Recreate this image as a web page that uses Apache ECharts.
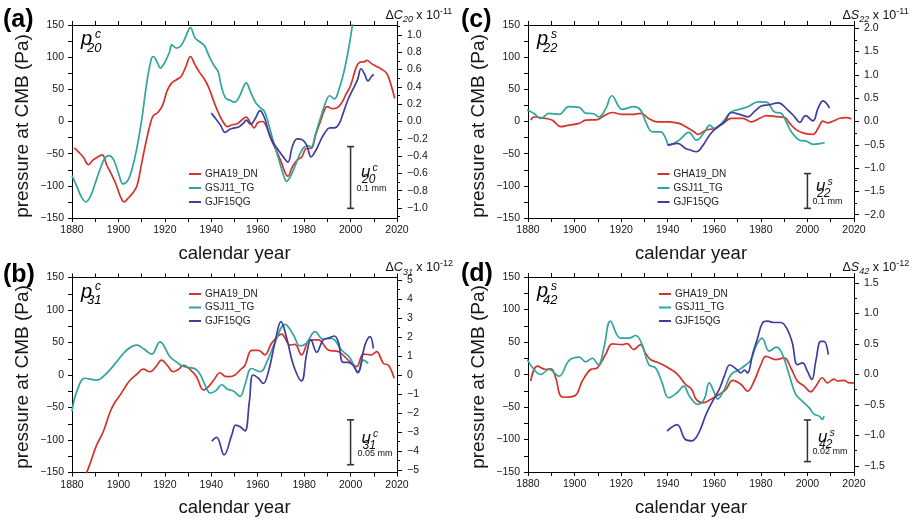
<!DOCTYPE html>
<html><head><meta charset="utf-8">
<script src="https://cdn.jsdelivr.net/npm/echarts@6/dist/echarts.min.js"></script>
<style>html,body{margin:0;padding:0;background:#fff}#c{width:920px;height:521px}</style>
</head><body><div id="c"></div>
<script>
// ---------------- data ----------------
const seriesNames = ['GHA19_DN', 'GSJ11_TG', 'GJF15QG'];
const seriesColors = ['#d5322b', '#2fa59e', '#3e3e9f'];

// (a) p^c_20
const a_GHA19_DN = [[1881,-41],[1883,-48],[1885,-56],[1887,-67],[1889,-60],[1891,-55],[1893,-52],[1895,-68],[1897,-82],[1899,-98],[1901,-118],[1902.5,-125],[1904,-120],[1906,-112],[1908,-100],[1910,-65],[1912,-30],[1914,0],[1915,9],[1917,14],[1919,25],[1921,48],[1923,60],[1925,65],[1927,70],[1929,85],[1931,101],[1933,88],[1935,76],[1937,66],[1939,52],[1941,32],[1943,14],[1945,0],[1947,-8],[1949,-5],[1951,-4],[1953,2],[1955,7],[1957,-3],[1958.5,-10],[1960,-2],[1962,0],[1964,-10],[1966,-30],[1968,-45],[1970,-62],[1973,-85],[1975,-70],[1977,-60],[1979,-55],[1981,-42],[1983,-42],[1985,-20],[1987,0],[1989,20],[1990,23],[1992,20],[1994,21],[1996,28],[1998,42],[2000,56],[2002.5,85],[2004,92],[2006,93],[2007,95],[2009,90],[2011,86],[2013,82],[2015.5,75],[2017,62],[2019,36]];
const a_GSJ11_TG = [[1880,-84],[1882,-100],[1884,-117],[1886,-125],[1888,-116],[1890,-96],[1892,-75],[1894,-58],[1896,-53],[1898,-60],[1900,-80],[1902,-97],[1904,-92],[1906,-72],[1908,-40],[1910,2],[1912,55],[1914,95],[1915,101],[1917,90],[1918,83],[1920,92],[1922,108],[1923,119],[1925,114],[1927,118],[1929,132],[1931,146],[1933,130],[1935,124],[1937,118],[1939,102],[1941,88],[1943,77],[1944,60],[1946,37],[1948,33],[1950,30],[1952,38],[1954,55],[1955,60],[1957,45],[1959,30],[1961,22],[1963,15],[1965,-8],[1967,-35],[1969,-58],[1971,-82],[1972.5,-93],[1974,-86],[1976,-70],[1978,-52],[1980,-40],[1982,-38],[1983,-40],[1985,-18],[1987,5],[1989,27],[1991,40],[1993,35],[1995,50],[1997,75],[1999,110],[2001,155]];
const a_GJF15QG = [[1940,13],[1942,4],[1944,-6],[1946,-17],[1948,-12],[1950,-10],[1952,-8],[1954,-2],[1955,2],[1957,-4],[1959,5],[1961,17],[1963,5],[1965,-20],[1967,-35],[1969,-45],[1971,-55],[1973,-63],[1975,-38],[1977,-27],[1979,-28],[1981,-36],[1983,-55],[1985,-45],[1987,-30],[1989,-17],[1991,-10],[1993,-10],[1995,-4],[1997,15],[1999,35],[2001,50],[2003,65],[2004.5,82],[2006,74],[2007.5,63],[2009,70],[2010,73]];

// (b) p^c_31
const b_GHA19_DN = [[1885.5,-158],[1887.8,-136],[1890.6,-108],[1893.5,-87],[1896.4,-57],[1898.5,-42],[1900.7,-31],[1903,-18],[1905,-8],[1908,1.5],[1910.7,9],[1913.6,5],[1916,12],[1918.6,23],[1921,15],[1923.6,5],[1926,9],[1928,15],[1931,8],[1933.7,-3],[1936.6,-23],[1939,-17],[1941,-8],[1943.8,3.5],[1946,-2],[1948,-2.6],[1950.2,0],[1952.4,7.7],[1954.5,15],[1957.4,38],[1960.3,38],[1963.1,31],[1966,49],[1970.3,63],[1973.9,46],[1976,47],[1978.9,31],[1982.5,54],[1986.1,54],[1990.4,38.5],[1994.7,36],[1999,23],[2002.6,13],[2005.5,32],[2009,31],[2011.2,36],[2014.1,18],[2016.3,15],[2018.8,-5]];
const b_GSJ11_TG = [[1880,-56],[1882,-26],[1885.6,-5],[1890.6,-8],[1894.9,2.6],[1899.3,20.5],[1903.6,38.5],[1907.9,46],[1911,40],[1914.3,32],[1917.9,51],[1922.2,28],[1925,20],[1928,13],[1933.7,7.7],[1938,-20.5],[1939.4,-28],[1942,-24],[1944.5,-15],[1947,-22],[1949.5,-24.6],[1952.4,-33],[1954.5,-15],[1957.4,10],[1961,5],[1964.6,25.7],[1967.5,51],[1971.8,78],[1975.4,61.6],[1978.2,44.7],[1981,49],[1984.7,66.7],[1988.2,55],[1991.8,56.5],[1996.1,38.5],[1999.7,26.7],[2003.3,5],[2005.5,23],[2007.6,18]];
const b_GJF15QG = [[1940.2,-101.7],[1942.3,-96],[1945.5,-123],[1948.8,-92.5],[1950.5,-77],[1952.4,-79.6],[1954.5,-86],[1956.4,-41],[1958,0],[1960.3,-5],[1962.4,-13],[1964.6,5],[1967.5,51],[1970,82],[1972.5,56.5],[1975.4,15],[1978.9,-9],[1981,31],[1982.9,54],[1985.4,35],[1988.2,54],[1991.1,57.5],[1993,60],[1994.7,51],[1996.8,19.5],[1999,19.5],[2001.1,15],[2003,3.6],[2006.2,46],[2008.4,59],[2009.8,41]];

// (c) p^s_22
const c_GHA19_DN = [[1881.2,2],[1882.6,7],[1887.6,4.7],[1890.5,2],[1894,-8],[1897.6,-5.6],[1901.9,-3],[1904.8,2],[1909.8,3],[1912.6,8.8],[1916.2,14],[1920.5,11],[1924.8,11],[1928.4,12.7],[1932,4.3],[1935.6,-0.5],[1940.6,-0.5],[1944.9,-3],[1947.8,-8],[1951.3,-16],[1953,-20],[1956.6,-13],[1960.2,-11],[1963.7,-3],[1967.3,5],[1972.3,5],[1975.9,-0.5],[1979.5,5],[1982.4,9],[1986.7,7.5],[1990.2,6.5],[1992.4,-3],[1995.3,-13],[1998.8,-18.5],[2002.4,-20],[2004.5,-11],[2006.7,0.5],[2008.8,-2],[2010.9,0.5],[2013.9,5],[2016.8,6],[2018.9,4]];
const c_GSJ11_TG = [[1879.5,17.7],[1882.6,12.5],[1885.5,4.7],[1889,12.5],[1893.3,11],[1897.6,23],[1901.9,22],[1904.8,13],[1908.3,12],[1910.4,7],[1913.4,20],[1916,40],[1920.5,19],[1925.5,23],[1928.4,17.7],[1930.5,0],[1933.4,-16],[1937,-16],[1939.1,-26],[1940.6,-36.7],[1944.9,-29],[1949.1,-17],[1952.3,-29],[1955.9,-16],[1958,-5.7],[1960.2,-11],[1963.7,-0.5],[1967.3,15],[1970.9,19],[1974.5,23],[1978.8,30.6],[1982.4,30],[1985.8,15],[1988.8,12.5],[1990.8,0],[1993.1,-16],[1996.7,-29],[1999.5,-30.5],[2002.4,-35.6],[2006,-34],[2007.4,-32.6]];
const c_GJF15QG = [[1939.9,-36.7],[1944.2,-34],[1947.7,-42],[1949.4,-44],[1952.3,-47],[1955.2,-36.7],[1958,-21],[1960.9,-9.8],[1964.4,-0.5],[1967.3,14],[1970.9,11],[1974.5,7.3],[1977.4,16],[1980.2,24],[1983.8,26],[1987.4,29],[1991.6,17.7],[1994.5,7.3],[1996.7,-1.5],[1999.2,9],[2002.4,1],[2004.5,20],[2006.7,32],[2009.5,21]];

// (d) p^s_42
const d_GHA19_DN = [[1881.2,-10],[1884,12.8],[1887.6,7.7],[1889.8,8.7],[1891.9,-5],[1894,-33],[1896.2,-35],[1900.4,-32],[1903.3,-10],[1906.9,7.7],[1909.7,10],[1913.3,30.7],[1916.2,47],[1920.5,46],[1922.6,47.6],[1925.4,38.4],[1928.3,46],[1930.4,33],[1932.6,23],[1936.1,18],[1940.4,10],[1944,1],[1947.6,-15],[1950.3,-23],[1952.2,-38],[1955,-43.5],[1958.6,-38],[1962.1,-30.7],[1965,-23],[1967.9,-9],[1971.4,-15],[1974.3,-25.6],[1977.1,-10],[1980,15],[1982.2,28],[1986.4,23],[1990,25.6],[1992.9,10],[1995.7,-10],[1998.6,-18],[2001.4,-26.6],[2003.6,-18],[2006.4,-5],[2008.6,-12.8],[2011.4,-7],[2012.9,-10],[2015.7,-9],[2017.9,-12.8],[2020,-13]];
const d_GSJ11_TG = [[1879.7,23],[1882.6,7.7],[1885.4,0],[1889,7.7],[1893.3,-2.6],[1897.6,21.5],[1901.9,26.6],[1904.8,19.5],[1907.6,25],[1910.2,15],[1912.6,41],[1915.4,82],[1919.7,56],[1923.3,56],[1926.2,60],[1929,46],[1931.9,15],[1934.8,10],[1937.6,-12.8],[1940.4,-35.8],[1944,-28],[1946.9,-18],[1949.3,-33],[1952.9,-46],[1955.7,-38],[1957.8,-12.8],[1960,-28],[1961.4,-38],[1964.3,-23],[1967.2,0],[1970.8,7.7],[1973.6,15],[1975.8,23],[1977.9,43.5],[1980.5,56],[1983.6,36],[1986.7,42],[1989.3,30.7],[1992.1,0],[1995,-30.7],[1997.8,-41],[2000.7,-51],[2002.8,-61],[2005,-64],[2006.4,-69],[2007.1,-64]];
const d_GJF15QG = [[1939.7,-87],[1944,-77],[1947.6,-100],[1950.4,-102],[1952.2,-97],[1954.3,-82],[1956.5,-61],[1959.3,-41],[1962.1,-23],[1964.3,-2.6],[1966.7,15],[1969.3,8.7],[1971.4,2.6],[1972.9,6.6],[1974.3,2.6],[1976.4,30.7],[1978.6,56],[1980.7,79.4],[1982.9,82],[1985.7,80],[1988.6,80],[1991.4,69],[1993.5,48.7],[1995.7,15],[1997.9,18],[2000,5],[2001.9,-7.7],[2003.6,20.5],[2005.7,51],[2007.1,51],[2009,30.7]];

// scale bars (left-axis units, Pa)
const a_scaleBar = [[2000,-39],[2000,-135]];
const b_scaleBar = [[2000,-69],[2000,-138]];
const c_scaleBar = [[2000,-81],[2000,-135]];
const d_scaleBar = [[2000,-70],[2000,-134]];

// axes ticks
const xRange = [1880, 2020];
const leftRange = [-150, 150];
const a_rightRange = 1.115, b_rightRange = 5.12, c_rightRange = 2.07, d_rightRange = 1.6;
const a_rightMajor = [-1.0,-0.8,-0.6,-0.4,-0.2,0,0.2,0.4,0.6,0.8,1.0];
const a_rightMinor = [-1.1,-0.9,-0.7,-0.5,-0.3,-0.1,0.1,0.3,0.5,0.7,0.9,1.1];
const b_rightMajor = [-5,-4,-3,-2,-1,0,1,2,3,4,5];
const b_rightMinor = [-4.5,-3.5,-2.5,-1.5,-0.5,0.5,1.5,2.5,3.5,4.5];
const c_rightMajor = [-2.0,-1.5,-1.0,-0.5,0,0.5,1.0,1.5,2.0];
const c_rightMinor = [-1.75,-1.25,-0.75,-0.25,0.25,0.75,1.25,1.75];
const d_rightMajor = [-1.5,-1.0,-0.5,0,0.5,1.0,1.5];
const d_rightMinor = [-1.25,-0.75,-0.25,0.25,0.75,1.25];

// ---------------- layout ----------------
const FONT = '"Liberation Sans", Arial, Helvetica, sans-serif';
const TXT = '#151515';
const panels = [
  {key:'a', grid:{left:72, top:25, width:325, height:193}, data:[a_GHA19_DN,a_GSJ11_TG,a_GJF15QG], bar:a_scaleBar,
   rr:a_rightRange, rmaj:a_rightMajor, rmin:a_rightMinor, dig:1, legend:{left:189, top:168.5, gap:3},
   letter:[3,7.5], yname:[23,126],
   pSup:'c', pSub:'20', rt:['C','20','-11'], uSup:'c', uSub:'20', mm:'0.1 mm', u:[361,164], mmPos:[356.5,184]},
  {key:'b', grid:{left:72, top:277.5, width:325, height:195}, data:[b_GHA19_DN,b_GSJ11_TG,b_GJF15QG], bar:b_scaleBar,
   rr:b_rightRange, rmaj:b_rightMajor, rmin:b_rightMinor, dig:0, legend:{left:189, top:288.5, gap:2.5},
   letter:[3,262.5], yname:[23,377],
   pSup:'c', pSub:'31', rt:['C','31','-12'], uSup:'c', uSub:'31', mm:'0.05 mm', u:[361.5,429.5], mmPos:[357.5,449.5]},
  {key:'c', grid:{left:528, top:25, width:326, height:193}, data:[c_GHA19_DN,c_GSJ11_TG,c_GJF15QG], bar:c_scaleBar,
   rr:c_rightRange, rmaj:c_rightMajor, rmin:c_rightMinor, dig:1, legend:{left:657.5, top:168.5, gap:3},
   letter:[461,7.5], yname:[479,126],
   pSup:'s', pSub:'22', rt:['S','22','-11'], uSup:'s', uSub:'22', mm:'0.1 mm', u:[816,177.5], mmPos:[812.5,197]},
  {key:'d', grid:{left:528, top:277, width:326, height:195}, data:[d_GHA19_DN,d_GSJ11_TG,d_GJF15QG], bar:d_scaleBar,
   rr:d_rightRange, rmaj:d_rightMajor, rmin:d_rightMinor, dig:1, legend:{left:659, top:288.5, gap:2.5},
   letter:[461,262], yname:[479,377],
   pSup:'s', pSub:'42', rt:['S','42','-12'], uSup:'s', uSub:'42', mm:'0.02 mm', u:[818,428.5], mmPos:[812.5,447]}
];
const minus = s => s.replace('-', '\u2212');

const grid = [], xAxis = [], yAxis = [], series = [], legend = [], graphic = [];
panels.forEach((p, i) => {
  grid.push(Object.assign({containLabel:false}, p.grid));
  const tickStyle = {color:'#000', width:1};
  const xBase = {type:'value', gridIndex:i, min:xRange[0], max:xRange[1], interval:20,
    splitLine:{show:false}, minorSplitLine:{show:false},
    axisLine:{show:true, onZero:false, lineStyle:{color:'#000', width:1}},
    axisTick:{show:true, inside:false, length:4, lineStyle:tickStyle},
    minorTick:{show:true, splitNumber:2, length:4, lineStyle:tickStyle}};
  xAxis.push(Object.assign({}, xBase, {position:'bottom',
    axisLabel:{show:true, fontSize:10.5, color:TXT, fontFamily:FONT, margin:7, showMinLabel:true, showMaxLabel:true,
      formatter:v => String(v)},
    name:'calendar year', nameLocation:'middle', nameGap:26,
    nameTextStyle:{fontSize:18.5, color:TXT, fontFamily:FONT}}));
  xAxis.push(Object.assign({}, xBase, {position:'top', axisLabel:{show:false}}));
  yAxis.push({type:'value', gridIndex:i, min:leftRange[0], max:leftRange[1], interval:50, position:'left',
    splitLine:{show:false}, minorSplitLine:{show:false},
    axisLine:{show:true, onZero:false, lineStyle:{color:'#000', width:1}},
    axisTick:{show:true, inside:false, length:4, lineStyle:tickStyle},
    minorTick:{show:true, splitNumber:2, length:4, lineStyle:tickStyle},
    axisLabel:{fontSize:10.5, color:TXT, fontFamily:FONT, margin:8, formatter:v => minus(String(v))}});
  yAxis.push({type:'value', gridIndex:i, min:-p.rr, max:p.rr, position:'right',
    splitLine:{show:false},
    axisLine:{show:true, onZero:false, lineStyle:{color:'#000', width:1}},
    axisTick:{show:true, inside:false, length:5, lineStyle:tickStyle, customValues:p.rmaj},
    axisLabel:{fontSize:10.5, color:TXT, fontFamily:FONT, margin:10, customValues:p.rmaj,
      formatter:v => minus(Number(v).toFixed(p.dig))}});
  yAxis.push({type:'value', gridIndex:i, min:-p.rr, max:p.rr, position:'right',
    splitLine:{show:false}, axisLine:{show:false, onZero:false},
    axisTick:{show:true, inside:false, length:3, lineStyle:tickStyle, customValues:p.rmin},
    axisLabel:{show:false}});
  p.data.forEach((d, k) => {
    series.push({type:'line', name:seriesNames[k], xAxisIndex:2*i, yAxisIndex:3*i, data:d,
      smooth:0.4, showSymbol:false, symbol:'none', clip:true,
      lineStyle:{color:seriesColors[k], width:1.7}, itemStyle:{color:seriesColors[k]}, z:2+k});
  });
  series.push({type:'line', name:'scale', xAxisIndex:2*i, yAxisIndex:3*i, data:p.bar,
    symbol:'rect', symbolSize:[7,1.6], showSymbol:true, silent:true,
    lineStyle:{color:'#333', width:1.5}, itemStyle:{color:'#333'}, z:5});
  legend.push({data:seriesNames, orient:'vertical', left:p.legend.left, top:p.legend.top, padding:0,
    itemGap:p.legend.gap, itemWidth:12, itemHeight:2, icon:'rect', selectedMode:false,
    textStyle:{fontSize:10, color:'#222', fontFamily:FONT, lineHeight:11, padding:[0,0,0,-1]}});

  const g = p.grid;
  // panel letter
  graphic.push({type:'text', left:p.letter[0], top:p.letter[1],
    style:{text:'(' + p.key + ')', font:'bold 25px ' + FONT, fill:'#000'}});
  // y-axis name
  graphic.push({type:'text', x:p.yname[0], y:p.yname[1], rotation:Math.PI / 2,
    style:{text:'pressure at CMB (Pa)', font:'19px ' + FONT, fill:TXT, align:'center', verticalAlign:'middle'}});
  // p label
  const px = g.left + 9, py = g.top + 4.5;
  graphic.push({type:'text', x:px, y:py, style:{text:'p', font:'italic 20px ' + FONT, fill:'#000', verticalAlign:'top'}});
  graphic.push({type:'text', x:px + 14, y:py - 1, style:{text:p.pSup, font:'italic 12px ' + FONT, fill:'#000', verticalAlign:'top'}});
  graphic.push({type:'text', x:px + 6, y:py + 12, style:{text:p.pSub, font:'italic 13px ' + FONT, fill:'#000', verticalAlign:'top'}});
  // u label
  const [ux, uy] = p.u;
  graphic.push({type:'text', x:ux, y:uy, style:{text:'u', font:'italic 17px ' + FONT, fill:'#111', verticalAlign:'top'}});
  graphic.push({type:'text', x:ux + 11.5, y:uy - 1, style:{text:p.uSup, font:'italic 10.5px ' + FONT, fill:'#111', verticalAlign:'top'}});
  graphic.push({type:'text', x:ux + 1, y:uy + 10, style:{text:p.uSub, font:'italic 12px ' + FONT, fill:'#111', verticalAlign:'top'}});
  graphic.push({type:'text', x:p.mmPos[0], y:p.mmPos[1], style:{text:p.mm, font:'9px ' + FONT, fill:'#111', verticalAlign:'top'}});
  // right axis title
  graphic.push({type:'text', x:g.left + g.width - 11.5, y:g.top - 18,
    style:{text:'{n|\u0394}{i|' + p.rt[0] + '}{s|' + p.rt[1] + '}{n| x 10}{p|' + p.rt[2] + '}',
      fill:'#111', verticalAlign:'top',
      rich:{n:{fontSize:12.5, fontFamily:FONT, lineHeight:17, fill:'#111'},
            i:{fontSize:12.5, fontFamily:FONT, fontStyle:'italic', lineHeight:17, fill:'#111'},
            s:{fontSize:9, fontFamily:FONT, fontStyle:'italic', lineHeight:10, verticalAlign:'bottom', fill:'#111'},
            p:{fontSize:9, fontFamily:FONT, lineHeight:10, verticalAlign:'top', fill:'#111'}}}});
});

const chart = echarts.init(document.getElementById('c'), null, {renderer:'canvas'});
chart.setOption({animation:false, backgroundColor:'#fff', textStyle:{fontFamily:FONT},
  grid, xAxis, yAxis, series, legend, graphic});
</script></body></html>
